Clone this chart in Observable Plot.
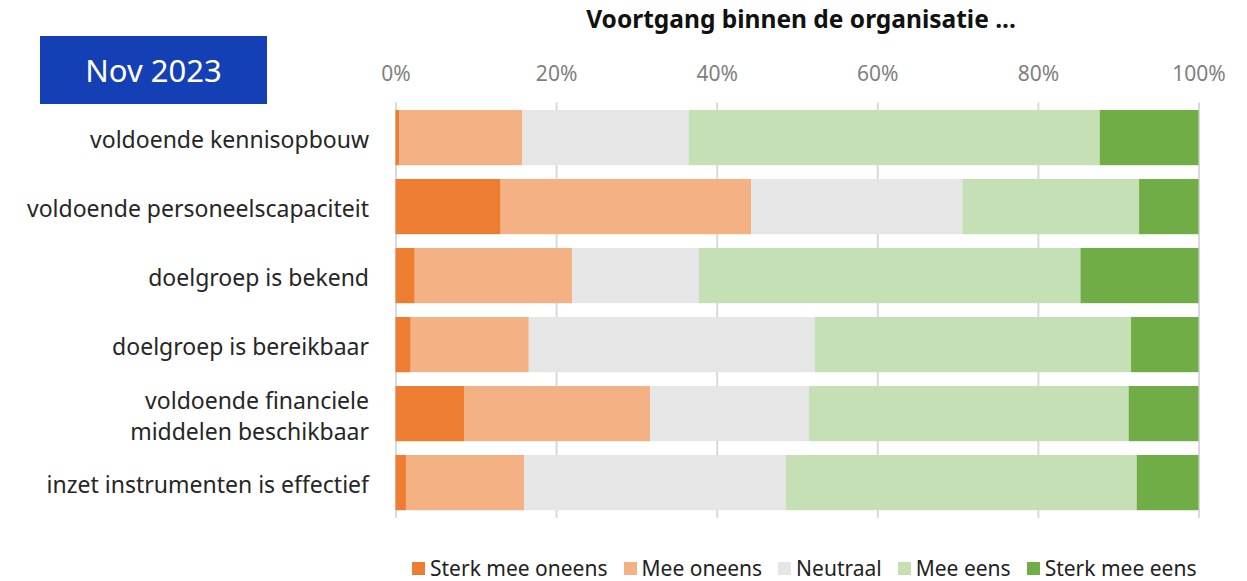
<!DOCTYPE html>
<html>
<head>
<meta charset="utf-8">
<script src="https://cdn.jsdelivr.net/npm/d3@7"></script>
<script src="https://cdn.jsdelivr.net/npm/@observablehq/plot@0.6"></script>
<style>
  html, body { margin: 0; padding: 0; background: #fff; }
  body { width: 1247px; height: 581px; position: relative; overflow: hidden; font-family: "Noto Sans", sans-serif; }
  #chart { position: absolute; left: 0; top: 0; }
  #title { position: absolute; left: 0; width: 1602px; top: 3px; text-align: center; font-weight: bold; font-size: 24.5px; line-height: 32px; color: #111; }
  #badge { position: absolute; left: 40px; top: 36px; width: 227px; height: 68px; background: #1540b5; color: #fff; font-size: 31px; display: flex; align-items: center; justify-content: center; }
  #legend { position: absolute; left: 412px; top: 553px; display: flex; align-items: center; font-size: 21px; line-height: 30px; color: #222; white-space: nowrap; }
  #legend .item { display: flex; align-items: center; margin-right: 16px; }
  #legend .sw { width: 13px; height: 13px; margin-right: 5px; }
</style>
</head>
<body>
<div id="chart"></div>
<div id="title">Voortgang binnen de organisatie ...</div>
<div id="badge">Nov 2023</div>
<div id="legend"></div>
<script>
const categories = [
  "voldoende kennisopbouw",
  "voldoende personeelscapaciteit",
  "doelgroep is bekend",
  "doelgroep is bereikbaar",
  "voldoende financiele middelen beschikbaar",
  "inzet instrumenten is effectief"
];
const series = ["Sterk mee oneens", "Mee oneens", "Neutraal", "Mee eens", "Sterk mee eens"];
const sterkMeeOneens = [0.5, 13.1, 2.4, 1.9, 8.6, 1.3];
const meeOneens      = [15.3, 31.2, 19.6, 14.7, 23.1, 14.7];
const neutraal       = [20.7, 26.3, 15.8, 35.6, 19.8, 32.6];
const meeEens        = [51.2, 22.0, 47.5, 39.4, 39.8, 43.7];
const sterkMeeEens   = [12.3, 7.4, 14.7, 8.4, 8.7, 7.7];
const xTicks = [0, 20, 40, 60, 80, 100];
const colors = ["#ed7d31", "#f4b183", "#e6e6e6", "#c5e0b4", "#70ad47"];

const seriesValues = [sterkMeeOneens, meeOneens, neutraal, meeEens, sterkMeeEens];
const data = [];
series.forEach((s, si) => {
  categories.forEach((c, ci) => {
    data.push({ category: c, series: s, value: seriesValues[si][ci] });
  });
});

const labelFmt = d => d === "voldoende financiele middelen beschikbaar"
  ? "voldoende financiele\nmiddelen beschikbaar" : d;

const chart = Plot.plot({
  width: 1247,
  height: 581,
  marginTop: 102.4,
  marginBottom: 63.2,
  marginLeft: 395.5,
  marginRight: 48.5,
  style: { fontFamily: "Noto Sans, sans-serif", background: "transparent", overflow: "visible" },
  x: { domain: [0, 100] },
  y: { domain: categories, paddingInner: 0.2, paddingOuter: 0.11, round: false },
  color: { domain: series, range: colors },
  marks: [
    Plot.gridX(xTicks, { stroke: "#d9d9d9", strokeOpacity: 1, strokeWidth: 2 }),
    Plot.barX(data, Plot.stackX({ x: "value", y: "category", fill: "series", order: series })),
    Plot.axisX(xTicks, { anchor: "top", tickSize: 0, tickPadding: 22, tickFormat: d => d + "%", fontSize: 21, fill: "#7f7f7f", label: null }),
    Plot.axisY({ tickSize: 0, tickPadding: 27, fontSize: 23, fill: "#262626", label: null, tickFormat: labelFmt, lineHeight: 1.35 })
  ]
});
document.getElementById("chart").appendChild(chart);

const legend = document.getElementById("legend");
series.forEach((s, i) => {
  const item = document.createElement("div");
  item.className = "item";
  const sw = document.createElement("span");
  sw.className = "sw";
  sw.style.background = colors[i];
  const t = document.createElement("span");
  t.textContent = s;
  item.appendChild(sw);
  item.appendChild(t);
  legend.appendChild(item);
});
</script>
</body>
</html>
